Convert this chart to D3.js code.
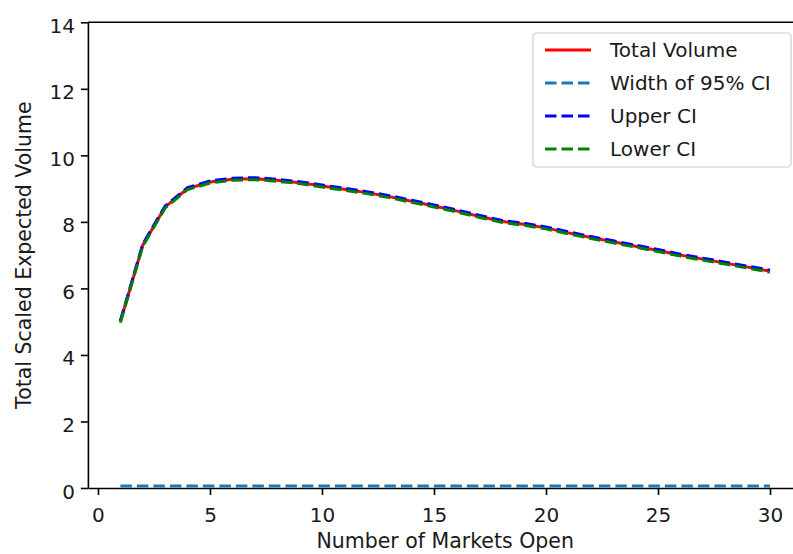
<!DOCTYPE html>
<html>
<head>
<meta charset="utf-8">
<script src="https://cdn.jsdelivr.net/npm/d3@7"></script>
<style>
  body { margin: 0; background: #fff; }
  svg { display: block; font-family: "DejaVu Sans", sans-serif; }
</style>
</head>
<body>
<div id="chart"></div>
<script>
// number of markets open
const markets = [1, 2, 3, 4, 5, 6, 7, 8, 9, 10, 11, 12, 13, 14, 15,
  16, 17, 18, 19, 20, 21, 22, 23, 24, 25, 26, 27, 28, 29, 30];

const totalVolume = [5.00, 7.30, 8.45, 9.00, 9.20, 9.28, 9.30, 9.25, 9.18, 9.08,
  8.98, 8.88, 8.76, 8.62, 8.48, 8.33, 8.17, 8.02, 7.93, 7.82,
  7.67, 7.53, 7.40, 7.27, 7.14, 7.00, 6.88, 6.76, 6.64, 6.52];

const ciWidth = [0.06, 0.06, 0.06, 0.06, 0.06, 0.06, 0.06, 0.06, 0.06, 0.06,
  0.06, 0.06, 0.06, 0.06, 0.06, 0.06, 0.06, 0.06, 0.06, 0.06,
  0.06, 0.06, 0.06, 0.06, 0.06, 0.06, 0.06, 0.06, 0.06, 0.06];

const upperCI = [5.03, 7.33, 8.48, 9.03, 9.23, 9.31, 9.33, 9.28, 9.21, 9.11,
  9.01, 8.91, 8.79, 8.65, 8.51, 8.36, 8.20, 8.05, 7.96, 7.85,
  7.70, 7.56, 7.43, 7.30, 7.17, 7.03, 6.91, 6.79, 6.67, 6.55];

const lowerCI = [4.97, 7.27, 8.42, 8.97, 9.17, 9.25, 9.27, 9.22, 9.15, 9.05,
  8.95, 8.85, 8.73, 8.59, 8.45, 8.30, 8.14, 7.99, 7.90, 7.79,
  7.64, 7.50, 7.37, 7.24, 7.11, 6.97, 6.85, 6.73, 6.61, 6.49];

const xTicks = [0, 5, 10, 15, 20, 25, 30];
const yTicks = [0, 2, 4, 6, 8, 10, 12, 14];

const width = 793, height = 554;
const plot = {left: 87.9, right: 802.5, top: 22.3, bottom: 488};

const svg = d3.select('#chart').append('svg')
  .attr('width', width)
  .attr('height', height);

const x = d3.scaleLinear().domain([-0.45, 31.45]).range([plot.left, plot.right]);
const y = d3.scaleLinear().domain([0, 14]).range([plot.bottom, plot.top]);

// axes
const xAxis = svg.append('g')
  .attr('transform', 'translate(0,' + plot.bottom + ')')
  .call(d3.axisBottom(x).tickValues(xTicks).tickSize(7).tickPadding(6).tickSizeOuter(0));
const yAxis = svg.append('g')
  .attr('transform', 'translate(' + plot.left + ',0)')
  .call(d3.axisLeft(y).tickValues(yTicks).tickSize(7).tickPadding(6).tickSizeOuter(0));

[xAxis, yAxis].forEach(ax => {
  ax.select('.domain').attr('stroke', '#000').attr('stroke-width', 1.6);
  ax.selectAll('.tick line').attr('stroke', '#000').attr('stroke-width', 1.6);
  ax.selectAll('.tick text')
    .attr('fill', '#1a1a1a')
    .style('font-size', '20px')
    .style('font-family', '"DejaVu Sans", sans-serif');
});
xAxis.selectAll('.tick text').attr('dy', null).attr('y', 34);
yAxis.selectAll('.tick text').attr('dy', '0.5em').attr('x', -13);

// top spine
svg.append('line')
  .attr('x1', plot.left).attr('x2', plot.right)
  .attr('y1', plot.top).attr('y2', plot.top)
  .attr('stroke', '#000').attr('stroke-width', 1.6);

const series = [
  {name: 'Total Volume', values: totalVolume, color: '#ff0000', dash: null},
  {name: 'Width of 95% CI', values: ciWidth, color: '#1f77b4', dash: '11.5,5'},
  {name: 'Upper CI', values: upperCI, color: '#0000ff', dash: '11.5,5'},
  {name: 'Lower CI', values: lowerCI, color: '#008000', dash: '11.5,5'}
];

const line = d3.line()
  .x(d => x(d[0]))
  .y(d => y(d[1]));

svg.selectAll('.series')
  .data(series)
  .enter().append('path')
  .attr('class', 'series')
  .attr('fill', 'none')
  .attr('stroke', d => d.color)
  .attr('stroke-width', 3)
  .attr('stroke-dasharray', d => d.dash)
  .attr('d', d => line(markets.map((m, i) => [m, d.values[i]])));

// axis labels
svg.append('text')
  .attr('x', (plot.left + plot.right) / 2)
  .attr('y', 548)
  .attr('text-anchor', 'middle')
  .attr('fill', '#1a1a1a')
  .style('font-size', '20.5px')
  .text('Number of Markets Open');

svg.append('text')
  .attr('transform', 'translate(31,' + (plot.top + plot.bottom) / 2 + ') rotate(-90)')
  .attr('text-anchor', 'middle')
  .attr('fill', '#1a1a1a')
  .style('font-size', '20.5px')
  .text('Total Scaled Expected Volume');

// legend
const legend = svg.append('g').attr('transform', 'translate(533,33)');
legend.append('rect')
  .attr('width', 258).attr('height', 134)
  .attr('rx', 4)
  .attr('fill', '#fff').attr('fill-opacity', 0.8)
  .attr('stroke', '#cccccc').attr('stroke-width', 1.2);

const rows = legend.selectAll('.row')
  .data(series)
  .enter().append('g')
  .attr('class', 'row')
  .attr('transform', (d, i) => 'translate(0,' + (17 + i * 33) + ')');
rows.append('line')
  .attr('x1', 12).attr('x2', 58)
  .attr('stroke', d => d.color)
  .attr('stroke-width', 3)
  .attr('stroke-dasharray', d => d.dash);
rows.append('text')
  .attr('x', 77)
  .attr('dy', '0.36em')
  .attr('fill', '#1a1a1a')
  .style('font-size', '20px')
  .text(d => d.name);
</script>
</body>
</html>
